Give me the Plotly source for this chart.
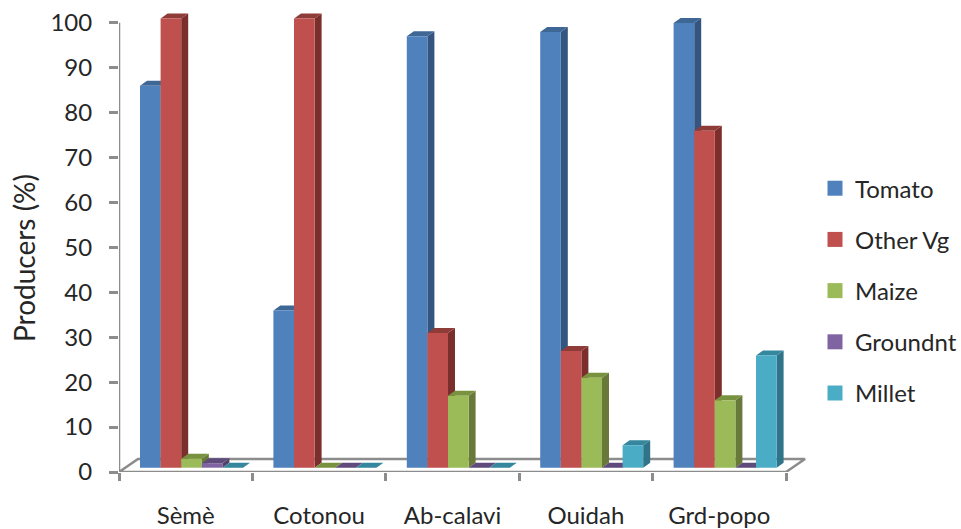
import plotly.graph_objects as go

categories = ["Sèmè", "Cotonou", "Ab-calavi", "Ouidah", "Grd-popo"]
tomato = [85, 35, 96, 97, 99]
other_vg = [100, 100, 30, 26, 75]
maize = [2, 0, 16, 20, 15]
groundnt = [1, 0, 0, 0, 0]
millet = [0, 0, 0, 5, 25]

series_names = ["Tomato", "Other Vg", "Maize", "Groundnt", "Millet"]
series_values = [tomato, other_vg, maize, groundnt, millet]
front_colors = ["#4F81BD", "#C0504D", "#9BBB59", "#8064A2", "#4BACC6"]
side_colors = ["#34557F", "#7B2F2D", "#68793A", "#54406C", "#2F7488"]
top_colors = ["#3F6796", "#8F3B38", "#79923F", "#5F4A7C", "#35879D"]

# layout geometry (pixels)
W, H = 961, 529
L, R = 119, 815
T, B = 5, 472
CAT_PX = 133.4
UNIT_PX = 4.493
x_range = [-0.5, -0.5 + (R - L) / CAT_PX]
y_range = [0, (B - T) / UNIT_PX]
DX = 7 / CAT_PX
DY = 5 / UNIT_PX
BASE = 4.3 / UNIT_PX
BW = 20.6 / CAT_PX
SHIFT = 5.8 / CAT_PX
FLOOR_DX = 19 / CAT_PX
FLOOR_DY = 13 / UNIT_PX
GRAY = "#8C8C8C"
FONT = "Lato"
TXT = "#262626"

fig = go.Figure()

# floor outline
fig.add_trace(go.Scatter(
    x=[-0.5, 4.5, 4.5 + FLOOR_DX, -0.5 + FLOOR_DX, -0.5],
    y=[0, 0, FLOOR_DY, FLOOR_DY, 0],
    mode="lines", line=dict(color=GRAY, width=2.5),
    showlegend=False, hoverinfo="skip", xaxis="x", yaxis="y"))
# value axis line
fig.add_trace(go.Scatter(
    x=[-0.5, -0.5], y=[0, 100], mode="lines",
    line=dict(color=GRAY, width=2.5),
    showlegend=False, hoverinfo="skip", xaxis="x", yaxis="y"))

# side and top faces, painted left to right
for c in range(len(categories)):
    for s, vals in enumerate(series_values):
        v = vals[c]
        x0 = c + SHIFT + (s - 2.5) * BW
        x1 = x0 + BW
        y0 = BASE
        y1 = BASE + v
        if v > 0:
            fig.add_trace(go.Scatter(
                x=[x1, x1 + DX, x1 + DX, x1, x1],
                y=[y0, y0 + DY, y1 + DY, y1, y0],
                mode="lines", fill="toself", fillcolor=side_colors[s],
                line=dict(width=0, color=side_colors[s]),
                showlegend=False, hoverinfo="skip", xaxis="x", yaxis="y"))
        fig.add_trace(go.Scatter(
            x=[x0, x1, x1 + DX, x0 + DX, x0],
            y=[y1, y1, y1 + DY, y1 + DY, y1],
            mode="lines", fill="toself", fillcolor=top_colors[s],
            line=dict(width=0, color=top_colors[s]),
            showlegend=False, hoverinfo="skip", xaxis="x", yaxis="y"))

# front faces on an overlaying axis pair so they sit above the depth faces
for s, (name, vals) in enumerate(zip(series_names, series_values)):
    fig.add_trace(go.Bar(
        x=[c + SHIFT + (s - 2) * BW for c in range(len(categories))],
        y=vals, base=BASE, width=BW, name=name, showlegend=False,
        marker=dict(color=front_colors[s], line=dict(width=0)),
        xaxis="x2", yaxis="y2"))
    # legend key: square swatch sized like the original
    fig.add_trace(go.Scatter(
        x=[None], y=[None], mode="markers", name=name, legendgroup=name,
        marker=dict(symbol="square", size=15, color=front_colors[s]),
        xaxis="x", yaxis="y"))

fig.add_annotation(
    text="Producers (%)", textangle=-90, showarrow=False,
    xref="paper", yref="paper",
    x=(24 - L) / (R - L), y=(B - 258) / (B - T),
    xanchor="center", yanchor="middle",
    font=dict(size=28, family=FONT, color=TXT))

fig.update_layout(
    width=W, height=H,
    margin=dict(l=L, r=W - R, t=T, b=H - B, autoexpand=False),
    paper_bgcolor="white", plot_bgcolor="white",
    barmode="overlay",
    font=dict(family=FONT, color=TXT, size=24),
    xaxis=dict(range=x_range, tickmode="array", tickvals=list(range(5)),
               ticktext=categories, ticks="", showgrid=False, zeroline=False,
               showline=False, ticklabelstandoff=27,
               tickfont=dict(size=24, family=FONT, color=TXT)),
    yaxis=dict(range=y_range, tickmode="array",
               tickvals=list(range(0, 101, 10)), ticks="outside", ticklen=9,
               tickwidth=2.5, tickcolor=GRAY, showgrid=False, zeroline=False,
               showline=False, ticklabelstandoff=12,
               tickfont=dict(size=24, family=FONT, color=TXT)),
    xaxis2=dict(range=x_range, overlaying="x", anchor="y2", side="bottom",
                tickmode="array", tickvals=[i - 0.5 for i in range(6)],
                ticktext=[""] * 6, ticks="outside", ticklen=8, tickwidth=2.5,
                tickcolor=GRAY, showgrid=False, zeroline=False, showline=False),
    yaxis2=dict(range=y_range, overlaying="y", side="left", visible=False),
    legend=dict(x=1.0, xanchor="left", y=0.655, yanchor="top",
                tracegroupgap=17, itemclick=False, itemdoubleclick=False,
                font=dict(size=24, family=FONT, color=TXT),
                bgcolor="rgba(0,0,0,0)"),
    showlegend=True,
)

fig.write_html("out.html", config={"displayModeBar": False},
               post_script="document.body.style.margin='0';")
